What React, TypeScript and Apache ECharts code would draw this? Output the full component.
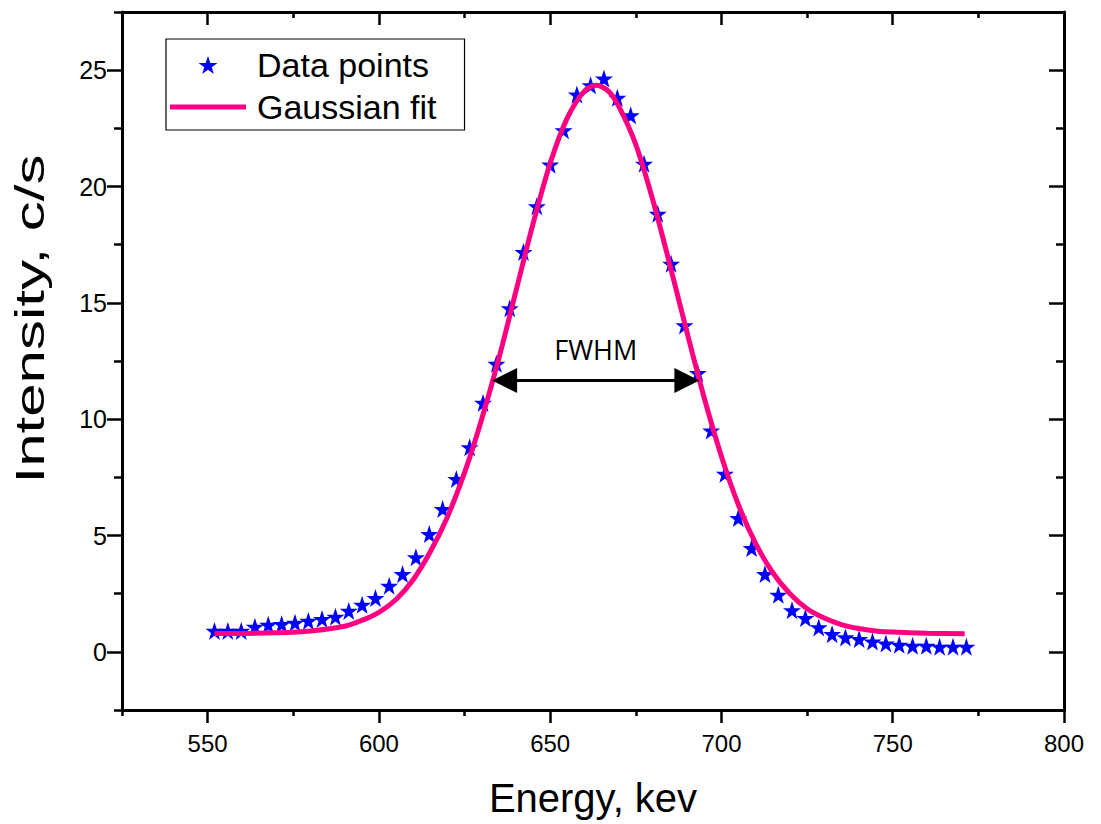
import React, { useEffect, useRef } from "react";
import * as echarts from "echarts";

// Measured spectrum (energy in keV, intensity in c/s)
const energy = [
  552.0, 555.9, 559.8, 563.8, 567.7, 571.6, 575.5, 579.4, 583.4, 587.3,
  591.2, 595.1, 599.0, 603.0, 606.9, 610.8, 614.7, 618.6, 622.6, 626.5,
  630.4, 634.3, 638.2, 642.2, 646.1, 650.0, 653.9, 657.8, 661.8, 665.7,
  669.6, 673.5, 677.4, 681.4, 685.3, 689.2, 693.1, 697.0, 701.0, 704.9,
  708.8, 712.7, 716.6, 720.6, 724.5, 728.4, 732.3, 736.2, 740.2, 744.1,
  748.0, 751.9, 755.8, 759.8, 763.7, 767.6, 771.5,
];
const intensity = [
  0.9, 0.9, 0.9, 1.08, 1.16, 1.19, 1.25, 1.33, 1.41, 1.51,
  1.76, 2.02, 2.31, 2.84, 3.34, 4.06, 5.06, 6.14, 7.43, 8.79,
  10.7, 12.38, 14.77, 17.18, 19.15, 20.94, 22.42, 23.95, 24.35, 24.64,
  23.81, 23.06, 20.98, 18.83, 16.68, 14.03, 11.98, 9.51, 7.65, 5.75,
  4.46, 3.34, 2.45, 1.79, 1.45, 1.05, 0.76, 0.62, 0.55, 0.44,
  0.36, 0.3, 0.26, 0.26, 0.22, 0.22, 0.22,
];

// Gaussian fit curve
const fitEnergy = [
  552, 560, 570, 580, 590, 595, 600, 605, 610, 615, 620, 625, 630, 635, 640,
  645, 650, 655, 660, 663.5, 667, 670, 675, 680, 685, 690, 695, 700, 705, 710,
  715, 720, 725, 730, 735, 740, 745, 750, 760, 771,
];
const fitIntensity = [
  0.79, 0.79, 0.82, 0.9, 1.1, 1.35, 1.7, 2.25, 3.1, 4.3, 5.8, 7.7, 10.0, 12.6, 15.5,
  18.4, 21.0, 22.95, 24.1, 24.35, 24.1, 23.45, 21.8, 19.4, 16.6, 13.7, 10.9, 8.4, 6.3, 4.65,
  3.4, 2.5, 1.85, 1.45, 1.17, 1.0, 0.9, 0.85, 0.8, 0.78,
];

// FWHM arrow: centres of the two arrow heads (keV) and level (c/s)
const fwhmArrowEnergies = [636.7, 689.9];
const fwhmLevel = 11.66;

// Axis ticks
const xMajorTicks = [550, 600, 650, 700, 750, 800];
const xMinorTicks = [525, 575, 625, 675, 725, 775];
const yMajorTicks = [0, 5, 10, 15, 20, 25];
const yMinorTicks = [-2.5, 2.5, 7.5, 12.5, 17.5, 22.5, 27.5];

const X_MIN = 525;
const X_MAX = 800;
const Y_MIN = -2.5;
const Y_MAX = 27.5;

const STAR =
  "path://M50,0 L61.8,35.1 L98.1,35.1 L68.8,56.7 L79.4,91 L50,70 L20.6,91 L31.2,56.7 L1.9,35.1 L38.2,35.1 Z";
const BAR_ICON = "path://M0,0 H76 V5 H0 Z";

const FONT = "'Liberation Sans', Arial, sans-serif";

function makeX(opts: any) {
  return {
    type: "value",
    min: X_MIN,
    max: X_MAX,
    splitLine: { show: false },
    axisLine: { show: opts.line, onZero: false, lineStyle: { color: "#000", width: 3 } },
    axisTick: {
      show: true,
      inside: opts.inside,
      length: opts.len,
      customValues: opts.ticks,
      lineStyle: { color: "#000", width: 2.5 },
    },
    axisLabel: opts.labels
      ? {
          show: true,
          customValues: xMajorTicks,
          fontSize: 24,
          fontFamily: FONT,
          color: "#000",
          margin: 21,
        }
      : { show: false },
    position: opts.position,
    ...(opts.name
      ? {
          name: "Energy, kev",
          nameLocation: "middle",
          nameGap: 68,
          nameTextStyle: { fontSize: 40, fontFamily: FONT, color: "#000" },
        }
      : {}),
  };
}

function makeY(opts: any) {
  return {
    type: "value",
    min: Y_MIN,
    max: Y_MAX,
    splitLine: { show: false },
    axisLine: { show: opts.line, onZero: false, lineStyle: { color: "#000", width: 3 } },
    axisTick: {
      show: true,
      inside: opts.inside,
      length: opts.len,
      customValues: opts.ticks,
      lineStyle: { color: "#000", width: 2.5 },
    },
    axisLabel: opts.labels
      ? {
          show: true,
          customValues: yMajorTicks,
          fontSize: 25,
          fontFamily: FONT,
          color: "#000",
          margin: 15,
        }
      : { show: false },
    position: opts.position,
  };
}

export default function App() {
  const ref = useRef<HTMLDivElement>(null);

  useEffect(() => {
    if (!ref.current) return;
    document.body.style.margin = "0";
    const chart = echarts.init(ref.current, undefined, { renderer: "svg" });

    const option: any = {
      animation: false,
      backgroundColor: "#fff",
      grid: { left: 122, right: 37, top: 12, bottom: 114, containLabel: false },
      legend: {
        orient: "vertical",
        left: 166,
        top: 39,
        padding: [9, 28, 6, 4],
        itemGap: 8,
        itemWidth: 76,
        itemHeight: 18,
        borderColor: "#000",
        borderWidth: 1.2,
        textStyle: { fontSize: 34, fontFamily: FONT, color: "#000", padding: [0, 0, 0, 6] },
        data: [
          { name: "Data points" },
          { name: "Gaussian fit", icon: BAR_ICON },
        ],
      },
      graphic: [
        {
          type: "text",
          x: 30,
          y: 319,
          rotation: Math.PI / 2,
          scaleX: 1.5,
          style: {
            text: "Intensity, c/s",
            fontSize: 40,
            fontFamily: FONT,
            fill: "#000",
            align: "center",
            verticalAlign: "middle",
          },
        },
      ],
      xAxis: [
        makeX({ position: "bottom", line: true, inside: false, len: 13, ticks: xMajorTicks, labels: true, name: true }),
        makeX({ position: "bottom", line: false, inside: false, len: 6, ticks: xMinorTicks }),
        makeX({ position: "top", line: true, inside: true, len: 13, ticks: xMajorTicks }),
        makeX({ position: "top", line: false, inside: true, len: 6, ticks: xMinorTicks }),
      ],
      yAxis: [
        makeY({ position: "left", line: true, inside: false, len: 15, ticks: yMajorTicks, labels: true }),
        makeY({ position: "left", line: false, inside: false, len: 8, ticks: yMinorTicks }),
        makeY({ position: "right", line: true, inside: true, len: 15, ticks: yMajorTicks }),
        makeY({ position: "right", line: false, inside: true, len: 8, ticks: yMinorTicks }),
      ],
      series: [
        {
          name: "Data points",
          type: "scatter",
          xAxisIndex: 0,
          yAxisIndex: 0,
          symbol: STAR,
          symbolSize: 18,
          itemStyle: { color: "#0000ff", opacity: 1 },
          data: energy.map((e, i) => [e, intensity[i]]),
          z: 2,
        },
        {
          name: "Gaussian fit",
          type: "line",
          xAxisIndex: 0,
          yAxisIndex: 0,
          smooth: 0.3,
          symbol: "none",
          showSymbol: false,
          lineStyle: { color: "#ff0080", width: 5 },
          itemStyle: { color: "#ff0080" },
          data: fitEnergy.map((e, i) => [e, fitIntensity[i]]),
          z: 3,
          markLine: {
            silent: true,
            symbol: ["triangle", "triangle"],
            symbolSize: [25, 25],
            lineStyle: { color: "#000", width: 3, type: "solid" },
            label: {
              show: true,
              position: "middle",
              formatter: "FWHM",
              distance: 18,
              fontSize: 27,
              fontFamily: "'Open Sans', sans-serif",
              color: "#000",
            },
            data: [
              [
                { coord: [fwhmArrowEnergies[0], fwhmLevel] },
                { coord: [fwhmArrowEnergies[1], fwhmLevel] },
              ],
            ],
          },
        },
      ],
    };

    chart.setOption(option);
    return () => chart.dispose();
  }, []);

  return <div ref={ref} style={{ width: 1101, height: 824 }} />;
}
